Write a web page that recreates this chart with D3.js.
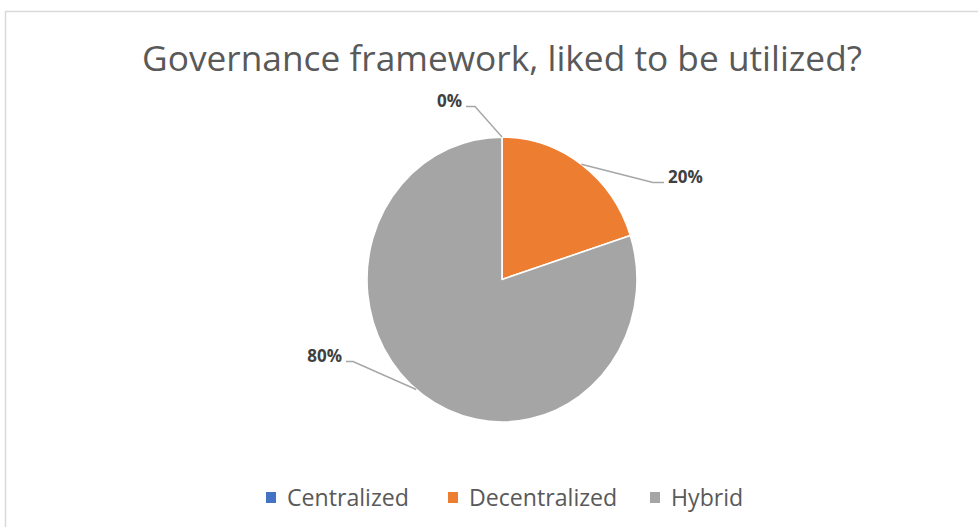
<!DOCTYPE html>
<html>
<head>
<meta charset="utf-8">
<script src="https://cdn.jsdelivr.net/npm/d3@7"></script>
<style>
  html, body { margin: 0; padding: 0; background: #fff; }
  svg { display: block; }
  text { font-family: "Open Sans", "Noto Sans", sans-serif; }
</style>
</head>
<body>
<svg id="chart" width="978" height="527"></svg>
<script>
// Survey answers: which governance framework respondents would like to use
const categories = ["Centralized", "Decentralized", "Hybrid"];
const shares = [0, 20, 80];
const sliceColors = ["#4472C4", "#ED7D31", "#A5A5A5"];
const titleText = "Governance framework, liked to be utilized?";

const svg = d3.select("#chart");
const W = 978, H = 527;

// chart frame (top and left edges)
svg.append("path")
  .attr("d", `M5.5,${H} V11.5 H${W}`)
  .attr("fill", "none")
  .attr("stroke", "#d9d9d9")
  .attr("stroke-width", 1.5);

// fit a text element to a given width by adjusting its font size
function fitWidth(sel, size, width) {
  sel.attr("font-size", size);
  const w = sel.node().getComputedTextLength();
  sel.attr("font-size", size * width / w);
}

// title
const title = svg.append("text")
  .attr("x", 502).attr("y", 71)
  .attr("text-anchor", "middle")
  .attr("fill", "#595959")
  .text(titleText);
fitWidth(title, 31, 720);

// pie: slightly taller than wide
const cx = 502, cy = 279.5, r = 135, sy = 1.055;
const data = categories.map((c, i) => ({ name: c, value: shares[i], color: sliceColors[i] }));

const pie = d3.pie().value(d => d.value).sort(null);
const arcs = pie(data);
const arc = d3.arc().innerRadius(0).outerRadius(r);

const g = svg.append("g").attr("transform", `translate(${cx},${cy}) scale(1,${sy})`);
g.selectAll("path.slice")
  .data(arcs)
  .join("path")
  .attr("class", "slice")
  .attr("d", arc)
  .attr("fill", d => d.data.color)
  .attr("stroke", "#fff")
  .attr("stroke-width", 1.6)
  .attr("stroke-linejoin", "round")
  .attr("vector-effect", "non-scaling-stroke");

// data labels with leader lines; offsets relative to the pie centre
const labelPos = {
  "Centralized":   { x: -40,  y: -173, anchor: "end",   elbow: -27, anchorAngle: 0 },
  "Decentralized": { x: 166,  y: -97,  anchor: "start", elbow: 151, anchorAngle: null },
  "Hybrid":        { x: -160, y: 82,   anchor: "end",   elbow: -149, anchorAngle: null }
};
const fmt = d3.format(".0%");
const total = d3.sum(shares);
const lab = svg.append("g").attr("transform", `translate(${cx},${cy})`);

arcs.forEach(a => {
  const p = labelPos[a.data.name];
  const mid = (a.startAngle + a.endAngle) / 2 + (a.data.name === "Hybrid" ? 0.06 : 0);
  const px = Math.sin(mid) * r, py = -Math.cos(mid) * r * sy;
  const ly = p.y;
  const lineEnd = p.anchor === "end" ? p.x + 4 : p.x - 4;
  lab.append("polyline")
    .attr("points", `${px},${py} ${p.elbow},${ly} ${lineEnd},${ly}`)
    .attr("fill", "none")
    .attr("stroke", "#a6a6a6")
    .attr("stroke-width", 1.4);
  const t = lab.append("text")
    .attr("x", p.x).attr("y", p.y)
    .attr("text-anchor", p.anchor)
    .attr("fill", "#404040")
    .attr("font-size", 17)
    .attr("font-weight", "bold")
    .text(fmt(a.data.value / total));
});

// legend
const legendX = [266, 448, 650];
const lg = svg.append("g");
let legendSize = null;
data.forEach((d, i) => {
  lg.append("rect")
    .attr("x", legendX[i]).attr("y", 492)
    .attr("width", 10).attr("height", 11)
    .attr("fill", d.color);
  const t = lg.append("text")
    .attr("x", legendX[i] + 21).attr("y", 506)
    .attr("fill", "#595959")
    .text(d.name);
  if (legendSize === null) {
    fitWidth(t, 20, 122);
    legendSize = +t.attr("font-size");
  } else {
    t.attr("font-size", legendSize);
  }
});
</script>
</body>
</html>
